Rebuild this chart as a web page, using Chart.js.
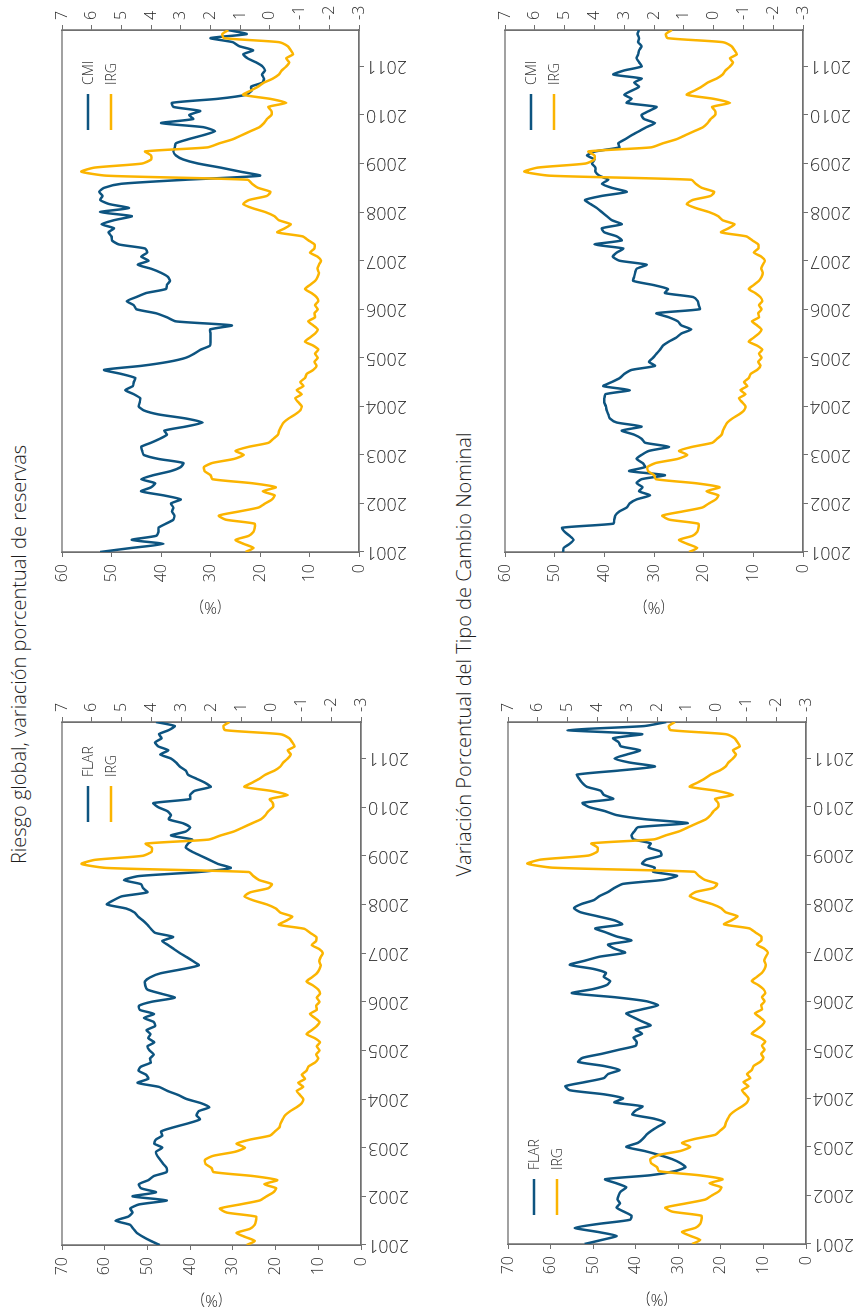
<!DOCTYPE html>
<html>
<head>
<meta charset="utf-8">
<script src="https://cdn.jsdelivr.net/npm/chart.js@4.4.0/dist/chart.umd.min.js"></script>
<style>
  html, body { margin: 0; padding: 0; background: #fff; }
  body { width: 862px; height: 1309px; overflow: hidden; position: relative; }
  /* the page is laid out landscape, then turned a quarter to the left */
  #page {
    position: absolute; left: 0; top: 0;
    width: 1309px; height: 862px;
    transform-origin: 0 0;
    transform: translateY(1309px) rotate(-90deg);
  }
  .title {
    position: absolute; left: 0; width: 1309px; text-align: center;
    font-family: "Open Sans", "Roboto", sans-serif; font-weight: 300;
    font-size: 20px; line-height: 24px; color: #1e1e1e;
  }
  canvas { position: absolute; }
</style>
</head>
<body>
<div id="page">
  <div class="title" style="top:7px">Riesgo global, variación porcentual de reservas</div>
  <div class="title" style="top:452px">Variación Porcentual del Tipo de Cambio Nominal</div>
  <canvas id="chartA"></canvas>
  <canvas id="chartB"></canvas>
  <canvas id="chartC"></canvas>
  <canvas id="chartD"></canvas>
</div>
<script>
// monthly data, Jan 2001 .. Oct 2011
const years = [2001, 2002, 2003, 2004, 2005, 2006, 2007, 2008, 2009, 2010, 2011];

// global risk index (right axis)
const irg = [
  0.82, 0.55, 0.88, 1.16, 0.71, 0.55, 0.51, 0.51, 1.49, 1.72, 1.05, 0.38,
  0.16, -0.07, -0.16, 0.24, -0.2, 0.6, 1.94, 2.0, 2.2, 2.22, 1.94, 1.21,
  0.88, 1.16, 0.71, 0.04, -0.12, -0.27, -0.31, -0.38, -0.46, -0.63, -0.85, -1.02,
  -1.07, -0.96, -0.85, -1.07, -0.9, -1.13, -1.02, -1.18, -1.24, -1.46, -1.57, -1.5,
  -1.61, -1.52, -1.63, -1.46, -1.18, -1.35, -1.52, -1.61, -1.46, -1.29, -1.52, -1.5,
  -1.61, -1.52, -1.63, -1.57, -1.4, -1.18, -1.35, -1.52, -1.61, -1.65, -1.6, -1.65,
  -1.72, -1.6, -1.35, -1.5, -1.5, -1.3, -1.1, -0.25, -0.5, -0.7, -0.3, -0.15,
  0.15, 0.6, 0.9, 0.7, 0.1, -0.02, 0.4, 0.6, 0.75, 5.5, 6.35, 5.9,
  4.3, 4.0, 4.0, 4.2, 2.1, 1.7, 1.25, 0.95, 0.65, 0.35, 0.2, 0.1,
  -0.05, -0.05, 0.05, -0.55, 0, 0.9, 0.65, 0.4, 0.2, -0.1, -0.3, -0.4,
  -0.55, -0.65, -0.55, -0.78, -0.7, -0.6, -0.3, 1.55, 1.6, 1.4
];

// reserves, FLAR members (%)
const flarReservas = [
  47.1, 49.2, 51, 52.5, 53.3, 54.1, 57.5, 54.5, 53.5, 54, 52, 45.5,
  53.5, 48, 51.5, 52, 49.8, 48.5, 45.5, 45.5, 46.3, 47, 47.7, 48,
  46.5, 48.4, 48, 46.5, 46.8, 44, 40.5, 37.7, 38.5, 38, 35.5, 37.5,
  40.8, 42.8, 45.3, 47.3, 52.3, 49.8, 50.3, 52.1, 51.5, 49.2, 49.4, 48.5,
  49.5, 50, 48.4, 49.8, 49.3, 50.2, 48.2, 48.5, 50.8, 48.5, 51.8, 52,
  49, 43.6, 46.8, 50, 50.5, 50.6, 49.4, 47, 42, 38, 39.3, 40.8,
  42.4, 43.8, 45.2, 46.5, 44, 48.2, 49.2, 50, 51, 52.2, 53, 55,
  59.5, 58, 56, 50, 51, 51.5, 55.5, 52, 38, 30.5, 33.5, 35.5,
  37.5, 39.5, 41, 40.5, 39.5, 44.5, 41, 40, 41.6, 45, 44.5, 45.3,
  47.5, 48.6, 40, 40, 39, 35.2, 36.5, 38.5, 40.5, 41, 42.4, 43.3,
  44.5, 47, 45.1, 47.5, 48.2, 46.7, 47.3, 45, 43.6, 48
];

// reserves, other middle income countries (%)
const cmiReservas = [
  52.3, 46, 39.5, 45.9, 41, 40.5, 40.5, 39, 37.5, 37.3, 37.8, 37.5,
  38, 36, 39.5, 44, 42, 41.2, 44, 41.5, 38, 36, 35.5, 40.5,
  43.5, 43.8, 44, 42, 40.2, 38.8, 39.3, 35, 31.6, 35, 40.5, 43.5,
  44.5, 44.3, 44.2, 45.5, 47.2, 45.7, 45.5, 45.2, 48, 51.5, 44, 38.5,
  35, 33.3, 32, 30.1, 30, 30, 30, 30.1, 25.7, 37, 38.8, 41,
  45, 45.5, 46.9, 45, 43, 39, 38.8, 38.2, 38.6, 40, 42, 44.7,
  42.5, 44, 42.8, 43.2, 48.5, 49.9, 50, 50.6, 49.5, 52, 49.5, 45.9,
  52.3, 46.5, 50.5, 52.3, 51.8, 52.5, 51.5, 48, 35, 20, 24, 28,
  32.5, 35.5, 37, 37.5, 37.2, 37, 34.5, 31.5, 29.1, 31.5, 40, 33.5,
  34.3, 32.1, 37.5, 37.8, 28.5, 22.8, 21.7, 21.8, 19.5, 19.2, 19.6, 19,
  19.5, 20.8, 22.5, 23.4, 21.4, 24.2, 25.5, 30, 22.7, 26.5
];

// nominal exchange rate, FLAR members (%)
const flarTcn = [
  52, 48, 44.5, 49, 54.3, 48.5, 41.3, 41, 42.8, 44.5, 43.7, 44.3,
  44, 43.5, 42.2, 44.5, 47.2, 36.5, 30.8, 28.3, 29.5, 31.5, 34.5, 38,
  42.2, 39.5, 38.3, 37.5, 36.3, 34.8, 33.2, 35.8, 40.8, 40, 38.4, 45,
  43, 47.5, 55.5, 56.5, 52, 47.5, 46.5, 43.8, 47.5, 53.5, 52.5, 48,
  44, 40, 39.8, 40.5, 38.5, 40, 36.5, 38.5, 40.5, 42.2, 38.5, 34.8,
  37.5, 45, 55, 50, 46.8, 46, 47.5, 47, 50, 55.5, 52, 48.5,
  42.5, 45, 46.5, 41, 44.5, 47, 49.5, 43.2, 45, 49, 53, 54.5,
  52.8, 49.8, 48.5, 46.5, 45, 43, 33.5, 30.3, 35.9, 35.5, 38.5, 37.5,
  34, 34.2, 37, 36.5, 40.5, 41, 40.3, 39.5, 27.8, 38, 44.5, 47.3,
  51, 52.5, 45.3, 47.5, 48.2, 51.5, 52.6, 53.3, 53.8, 44, 35.5, 41.5,
  45, 42, 39, 43.5, 44, 45.3, 38.5, 56, 38, 32.8
];

// nominal exchange rate, other middle income countries (%)
const cmiTcn = [
  48.3, 48.2, 47, 46.2, 47, 48, 48.5, 38.2, 38, 37.8, 37, 35.5,
  34.9, 33.5, 30.8, 33, 32.3, 33.5, 32.5, 27.8, 35, 31.8, 32.3, 33.5,
  32.5, 31, 27, 31.8, 32.5, 34, 36.5, 32.5, 37.5, 38.9, 39.2, 39.5,
  39.7, 40, 40, 39.8, 34.9, 40.2, 38.5, 36.9, 36, 34.5, 29.8, 31,
  30.2, 29.5, 28.8, 28.2, 27, 25.5, 24.5, 22.5, 24.5, 25.2, 27, 29.5,
  20.8, 21, 21.2, 22.1, 27.8, 27.2, 30.2, 34.2, 34, 33.8, 33.5, 31.5,
  37, 38.3, 37.5, 36.2, 42, 36.5, 37.5, 40, 40.5, 36.5, 38.5, 39.5,
  40.5, 41.5, 42.8, 43.9, 40.5, 35.5, 38.5, 40.5, 39.2, 41, 41.8, 41.8,
  42.5, 42, 43.5, 41.8, 37, 37.2, 35.8, 34.5, 33, 31.5, 29.8, 32,
  32.5, 31, 29.5, 35.5, 34.5, 36, 34.5, 33, 34, 32.5, 38.2, 36,
  32.5, 33, 33.5, 33.2, 33, 32.5, 33.2, 33, 33.3, 33
];

const BLUE = "#0d5480";
const GOLD = "#fbb400";
const AXIS = "#707070";
const TEXT = "#2a2a2a";
const FONT = '"Open Sans", "Roboto", sans-serif';

// box round the plot area (the top edge has no axis of its own)
const framePlugin = {
  id: "frame",
  beforeDatasetsDraw(chart) {
    const a = chart.chartArea;
    const ctx = chart.ctx;
    ctx.save();
    ctx.strokeStyle = AXIS;
    ctx.lineWidth = 1.3;
    ctx.strokeRect(a.left, a.top, a.right - a.left, a.bottom - a.top);
    ctx.restore();
  },
};

// small legend drawn inside the plot
const insideLegend = {
  id: "insideLegend",
  afterDraw(chart, args, opts) {
    const a = chart.chartArea;
    const ctx = chart.ctx;
    const x0 = opts.side === "left" ? a.left + 29 : a.right - 100;
    ctx.save();
    ctx.font = "300 14px " + FONT;
    ctx.textBaseline = "middle";
    ctx.fillStyle = TEXT;
    chart.data.datasets.forEach((ds, i) => {
      const y = a.top + 26 + i * 23;
      ctx.strokeStyle = ds.borderColor;
      ctx.lineWidth = 2.5;
      ctx.beginPath();
      ctx.moveTo(x0, y);
      ctx.lineTo(x0 + 36, y);
      ctx.stroke();
      ctx.fillText(ds.label, x0 + 45, y + 1);
    });
    ctx.restore();
  },
};

const toPoints = (vals) => vals.map((v, i) => ({ x: i, y: v }));

function makeChart(id, box, label, values, yMax, side) {
  const canvas = document.getElementById(id);
  const padL = 64, padR = 56, padT = 20, padB = 70;
  canvas.width = padL + box.w + padR;
  canvas.height = padT + box.h + padB;
  canvas.style.left = (box.left - padL) + "px";
  canvas.style.top = (box.top - padT) + "px";

  const tickFont = { family: FONT, size: 16, weight: "300" };

  return new Chart(canvas, {
    type: "line",
    data: {
      datasets: [
        { label: label, data: toPoints(values), yAxisID: "y", borderColor: BLUE, borderWidth: 2.5, order: 1 },
        { label: "IRG", data: toPoints(irg), yAxisID: "y2", borderColor: GOLD, borderWidth: 2.5, order: 0 },
      ],
    },
    options: {
      responsive: false,
      animation: false,
      layout: { padding: { top: padT } },
      elements: { point: { radius: 0 }, line: { tension: 0.2 } },
      plugins: {
        legend: { display: false },
        tooltip: { enabled: false },
        insideLegend: { side: side },
      },
      scales: {
        x: {
          type: "linear",
          min: 0,
          max: irg.length - 1,
          afterFit: (s) => { s.height = padB; },
          border: { color: AXIS, width: 1.3 },
          grid: { drawOnChartArea: false, color: AXIS, tickLength: 5 },
          ticks: {
            stepSize: 12,
            includeBounds: false,
            autoSkip: false,
            minRotation: 90,
            maxRotation: 90,
            padding: 2,
            color: TEXT,
            font: { family: FONT, size: 18, weight: "300" },
            callback: (v) => (v % 12 === 0 ? String(years[v / 12]) : null),
          },
        },
        y: {
          position: "left",
          min: 0,
          max: yMax,
          afterFit: (s) => { s.width = padL; },
          border: { color: AXIS, width: 1.3 },
          grid: { drawOnChartArea: false, color: AXIS, tickLength: 5 },
          ticks: { stepSize: 10, padding: 7, color: TEXT, font: tickFont },
          title: { display: true, text: "(%)", color: TEXT, font: tickFont, padding: 0 },
        },
        y2: {
          position: "right",
          min: -3,
          max: 7,
          afterFit: (s) => { s.width = padR; },
          border: { color: AXIS, width: 1.3 },
          grid: { drawOnChartArea: false, color: AXIS, tickLength: 5 },
          ticks: { stepSize: 1, padding: 5, color: TEXT, font: tickFont },
        },
      },
    },
    plugins: [framePlugin, insideLegend],
  });
}

makeChart("chartA", { left: 64, top: 62, w: 523, h: 299 }, "FLAR", flarReservas, 70, "right");
makeChart("chartB", { left: 757, top: 62, w: 522, h: 297 }, "CMI", cmiReservas, 60, "right");
makeChart("chartC", { left: 65, top: 508, w: 522, h: 298 }, "FLAR", flarTcn, 70, "left");
makeChart("chartD", { left: 757, top: 505, w: 522, h: 298 }, "CMI", cmiTcn, 60, "right");
</script>
</body>
</html>
